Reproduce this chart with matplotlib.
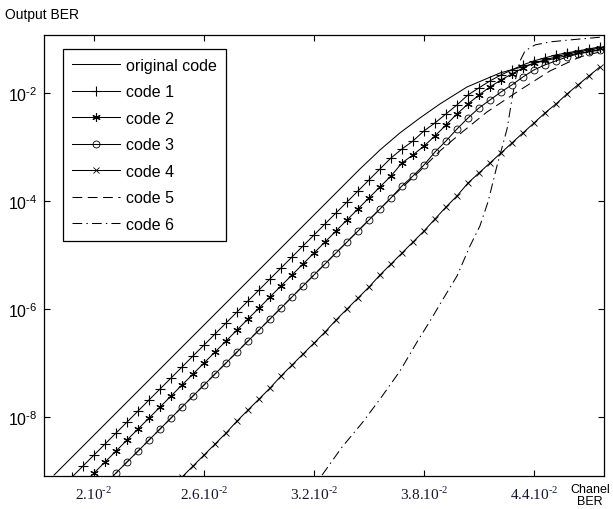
import numpy as np
import matplotlib
matplotlib.use('Agg')
import matplotlib.pyplot as plt
from matplotlib.ticker import NullLocator

plt.rcParams['font.family'] = ['Liberation Sans', 'DejaVu Sans']
plt.rcParams['mathtext.fontset'] = 'custom'
plt.rcParams['mathtext.rm'] = 'Liberation Serif'
plt.rcParams['mathtext.sf'] = 'Liberation Sans'
plt.rcParams['lines.scale_dashes'] = False

# channel BER grid used by the marked curves
chan_ber = [0.0176, 0.0182, 0.0188, 0.0194, 0.0200, 0.0206, 0.0212, 0.0218, 0.0224, 0.0230,
            0.0236, 0.0242, 0.0248, 0.0254, 0.0260, 0.0266, 0.0272, 0.0278, 0.0284, 0.0290,
            0.0296, 0.0302, 0.0308, 0.0314, 0.0320, 0.0326, 0.0332, 0.0338, 0.0344, 0.0350,
            0.0356, 0.0362, 0.0368, 0.0374, 0.0380, 0.0386, 0.0392, 0.0398, 0.0404, 0.0410,
            0.0416, 0.0422, 0.0428, 0.0434, 0.0440, 0.0446, 0.0452, 0.0458, 0.0464, 0.0470,
            0.0476]

# original code (plain line)
orig_x = [0.01782, 0.03451, 0.0356, 0.03669, 0.03778, 0.03887, 0.04035, 0.04215, 0.04433,
          0.04596, 0.04782]
orig_y = [8.43e-10, 3.92e-4, 8.79e-4, 1.82e-3, 3.44e-3, 6.25e-3, 1.29e-2, 2.34e-2, 3.75e-2,
          5.06e-2, 6.53e-2]

# code 1, starts at chan_ber[2]
code1_y = [7.74e-10, 1.24e-9, 1.98e-9, 3.16e-9, 5.06e-9, 8.07e-9, 1.29e-8, 2.07e-8, 3.30e-8,
           5.27e-8, 8.43e-8, 1.35e-7, 2.15e-7, 3.44e-7, 5.51e-7, 8.79e-7, 1.41e-6, 2.25e-6,
           3.60e-6, 5.74e-6, 9.18e-6, 1.47e-5, 2.34e-5, 3.75e-5, 6.00e-5, 9.57e-5, 1.53e-4,
           2.45e-4, 3.92e-4, 6.25e-4, 9.18e-4, 1.29e-3, 1.98e-3, 2.78e-3, 4.08e-3, 6.00e-3,
           9.18e-3, 1.24e-2, 1.67e-2, 2.15e-2, 2.67e-2, 3.30e-2, 3.92e-2, 4.45e-2, 5.06e-2,
           5.51e-2, 6.00e-2, 6.53e-2, 7.11e-2]

# code 2, starts at chan_ber[4]
code2_y = [9.18e-10, 1.47e-9, 2.34e-9, 3.75e-9, 6.00e-9, 9.57e-9, 1.53e-8, 2.45e-8, 3.92e-8,
           6.25e-8, 1.00e-7, 1.60e-7, 2.55e-7, 4.08e-7, 6.53e-7, 1.04e-6, 1.67e-6, 2.67e-6,
           4.27e-6, 6.81e-6, 1.09e-5, 1.74e-5, 2.78e-5, 4.45e-5, 7.11e-5, 1.14e-4, 1.82e-4,
           2.90e-4, 5.06e-4, 7.11e-4, 1.04e-3, 1.60e-3, 2.55e-3, 4.08e-3, 6.25e-3, 9.18e-3,
           1.29e-2, 1.74e-2, 2.25e-2, 2.90e-2, 3.60e-2, 4.08e-2, 4.64e-2, 5.27e-2, 5.74e-2,
           6.25e-2, 6.81e-2]

# code 3, starts at chan_ber[6]
code3_y = [9.18e-10, 1.47e-9, 2.34e-9, 3.75e-9, 6.00e-9, 9.57e-9, 1.53e-8, 2.45e-8, 3.92e-8,
           6.25e-8, 1.00e-7, 1.60e-7, 2.55e-7, 4.08e-7, 6.53e-7, 1.04e-6, 1.67e-6, 2.67e-6,
           4.27e-6, 6.81e-6, 1.09e-5, 1.74e-5, 2.78e-5, 4.45e-5, 7.11e-5, 1.14e-4, 1.90e-4,
           2.90e-4, 4.64e-4, 8.07e-4, 1.29e-3, 2.15e-3, 3.44e-3, 5.27e-3, 7.41e-3, 1.04e-2,
           1.41e-2, 1.98e-2, 2.67e-2, 3.30e-2, 3.92e-2, 4.64e-2, 5.27e-2, 5.74e-2, 6.25e-2]

# code 4, starts at chan_ber[12]
code4_y = [7.74e-10, 1.24e-9, 1.98e-9, 3.16e-9, 5.06e-9, 8.43e-9, 1.35e-8, 2.15e-8, 3.44e-8,
           5.74e-8, 9.18e-8, 1.47e-7, 2.34e-7, 3.75e-7, 6.25e-7, 1.00e-6, 1.60e-6, 2.55e-6,
           4.27e-6, 6.81e-6, 1.09e-5, 1.74e-5, 2.78e-5, 4.64e-5, 7.74e-5, 1.24e-4, 2.15e-4,
           3.30e-4, 5.06e-4, 7.74e-4, 1.19e-3, 1.82e-3, 2.78e-3, 4.27e-3, 6.25e-3, 9.57e-3,
           1.41e-2, 2.07e-2, 3.03e-2]

# code 5 (dashed) and code 6 (dash-dot)
code5_x = [0.02098, 0.0362, 0.03778, 0.03887, 0.03996, 0.04144, 0.04307, 0.04487, 0.04651, 0.04782]
code5_y = [7.74e-10, 1.14e-4, 3.60e-4, 8.43e-4, 1.74e-3, 4.45e-3, 1.04e-2, 2.55e-2, 4.64e-2, 6.00e-2]
code6_x = [0.03244, 0.03353, 0.03462, 0.0356, 0.03669, 0.03762, 0.03833, 0.03904, 0.0398,
           0.04051, 0.04105, 0.04149, 0.04198, 0.04231, 0.04253, 0.0428, 0.04302, 0.04324,
           0.04351, 0.04406, 0.04487, 0.04596, 0.04782]
code6_y = [8.43e-10, 2.78e-9, 7.74e-9, 2.15e-8, 7.11e-8, 2.45e-7, 6.00e-7, 1.53e-6, 4.08e-6,
           1.47e-5, 3.44e-5, 9.57e-5, 4.45e-4, 1.14e-3, 2.15e-3, 7.74e-3, 1.98e-2, 3.92e-2,
           6.00e-2, 7.74e-2, 8.79e-2, 9.57e-2, 0.109]

xtick_vals = [0.020, 0.026, 0.032, 0.038, 0.044]
xtick_txt = ['2.10', '2.6.10', '3.2.10', '3.8.10', '4.4.10']
ytick_vals = [1e-8, 1e-6, 1e-4, 1e-2]
ytick_exp = ['8', '6', '4', '2']

fig = plt.figure(figsize=(6.13, 5.10), dpi=100)
ax = fig.add_axes([0.0718, 0.0647, 0.9135, 0.8647])

lw = 0.75
ax.plot(orig_x, orig_y, color='k', lw=lw, label='original code')
ax.plot(chan_ber[2:], code1_y, color='k', lw=lw, marker='+', ms=6.5, mew=0.8, label='code 1')
ax.plot(chan_ber[4:], code2_y, color='k', lw=lw, marker=(6, 2, 0), ms=6, mew=0.8, label='code 2')
ax.plot(chan_ber[6:], code3_y, color='k', lw=lw, marker='o', ms=5, mew=0.6, mfc='none', label='code 3')
ax.plot(chan_ber[12:], code4_y, color='k', lw=lw, marker='x', ms=5, mew=0.6, label='code 4')
ax.plot(code5_x, code5_y, color='k', lw=lw, ls=(0, (7, 4)), label='code 5')
ax.plot(code6_x, code6_y, color='k', lw=lw, ls=(0, (7, 3, 1, 3)), label='code 6')

ax.set_yscale('log')
ax.set_xlim(0.017273, 0.047818)
ax.set_ylim(8.1e-10, 0.118)
ax.yaxis.set_minor_locator(NullLocator())
ax.set_yticks(ytick_vals)
ax.set_yticklabels([r'$\mathsf{10^{\text{-}' + e + '}}$' for e in ytick_exp], fontsize=11.5)
ax.set_xticks(xtick_vals)
ax.set_xticklabels([r'$' + t + r'^{\text{-}2}$' for t in xtick_txt], fontsize=11, color='#14143a')
ax.tick_params(direction='in', length=4, width=0.8, top=True, right=True)
ax.tick_params(axis='y', pad=5)
ax.tick_params(axis='x', pad=6)
for s in ax.spines.values():
    s.set_linewidth(0.9)

leg = ax.legend(loc='upper left', bbox_to_anchor=(0.034, 0.968), borderaxespad=0,
                fontsize=11.5, handlelength=3.0, handletextpad=0.4, labelspacing=0.72,
                borderpad=0.55, fancybox=False, framealpha=1, edgecolor='k')
leg.get_frame().set_linewidth(0.9)

fig.text(5 / 613, 1 - 15 / 510, 'Output BER', fontsize=10, ha='left', va='center')
fig.text(590 / 613, 1 - 496 / 510, 'Chanel\nBER', fontsize=9, ha='center', va='center',
         linespacing=1.0)

fig.savefig('out.png', dpi=100)
